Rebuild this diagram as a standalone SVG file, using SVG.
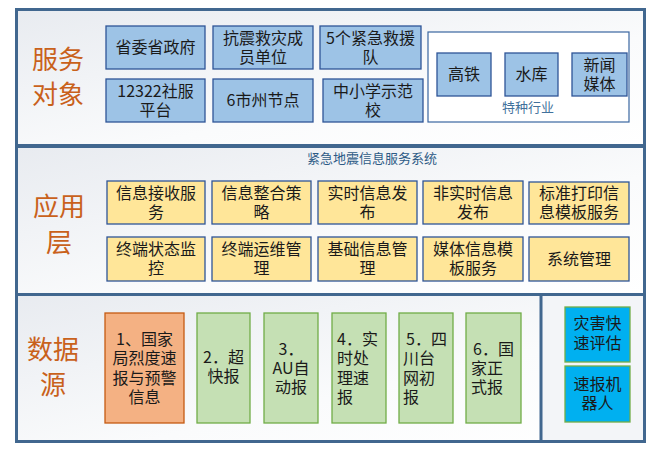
<svg xmlns="http://www.w3.org/2000/svg" width="656" height="449" viewBox="0 0 656 449">
<defs>
<linearGradient id="pg" x1="0" y1="0" x2="1" y2="1">
<stop offset="0" stop-color="#e8ebf0"/>
<stop offset="0.6" stop-color="#fafbfc"/>
<stop offset="1" stop-color="#ffffff"/>
</linearGradient>
</defs>
<style>
text{font-family:"Noto Sans CJK SC","Liberation Sans",sans-serif;font-size:16px;fill:#1a1a1a;text-anchor:middle}
.panel{fill:url(#pg);stroke:#41678f;stroke-width:3}
.title{font-size:26px;fill:#c9611b}
.blue{fill:#9dc3e6;stroke:#2f5597;stroke-width:1.3}
.yel{fill:#ffe699;stroke:#2f5597;stroke-width:1.3}
.org{fill:#f4b183;stroke:#c55a11;stroke-width:1.3}
.grn{fill:#c5e0b4;stroke:#70ad47;stroke-width:1.3}
.cyan{fill:#00b0f0;stroke:#70ad47;stroke-width:1.3}
.lbl{font-size:13px;fill:#41719c}
.l{text-anchor:start}
</style>
<rect width="656" height="449" fill="#ffffff"/>

<g id="panel-service">
<rect class="panel" x="16.5" y="9.5" width="628" height="136"/>
<text class="title" x="58" y="69">服务</text>
<text class="title" x="58" y="104">对象</text>
</g>
<g id="panel-app">
<rect class="panel" x="16.5" y="146.5" width="628" height="148"/>
<text class="title" x="59" y="216">应用</text>
<text class="title" x="59" y="252">层</text>
<text class="lbl" x="372" y="162.5" style="fill:#2e5b86">紧急地震信息服务系统</text>
</g>
<g id="panel-data">
<rect class="panel" x="16.5" y="294.5" width="628" height="147"/>
<rect x="541" y="294.5" width="103.5" height="147" fill="#f3f5f8" stroke="#41678f" stroke-width="3"/>
<text class="title" x="53" y="359">数据</text>
<text class="title" x="53" y="394">源</text>
</g>

<g id="n-shengwei"><rect class="blue" x="106" y="26" width="99" height="43"/><text x="155.5" y="53">省委省政府</text></g>
<g id="n-kangzhen"><rect class="blue" x="213" y="26" width="100" height="43"/><text x="263" y="43.5">抗震救灾成</text><text x="263" y="62.5">员单位</text></g>
<g id="n-jiuyuan"><rect class="blue" x="320" y="26" width="101" height="43"/><text x="370.5" y="43.5">5个紧急救援</text><text x="370.5" y="62.5">队</text></g>
<g id="n-12322"><rect class="blue" x="106" y="79" width="99" height="43"/><text x="155.5" y="96.5">12322社服</text><text x="155.5" y="115.5">平台</text></g>
<g id="n-shizhou"><rect class="blue" x="213" y="79" width="100" height="43"/><text x="263" y="106">6市州节点</text></g>
<g id="n-school"><rect class="blue" x="323" y="79" width="100" height="43"/><text x="373" y="96.5">中小学示范</text><text x="373" y="115.5">校</text></g>

<g id="g-special">
<rect x="428" y="32" width="201" height="90" fill="#ffffff" stroke="#3a66a0" stroke-width="1.2"/>
<text class="lbl" x="528" y="111.5">特种行业</text>
</g>
<g id="n-gaotie"><rect class="blue" x="437" y="53" width="54" height="43"/><text x="464" y="80">高铁</text></g>
<g id="n-shuiku"><rect class="blue" x="505" y="53" width="53" height="43"/><text x="531.5" y="80">水库</text></g>
<g id="n-media"><rect class="blue" x="572" y="53" width="55" height="43"/><text x="599.5" y="70.5">新闻</text><text x="599.5" y="89.5">媒体</text></g>

<g id="n-recv"><rect class="yel" x="107" y="181" width="98" height="43"/><text x="156" y="199">信息接收服</text><text x="156" y="218">务</text></g>
<g id="n-integ"><rect class="yel" x="212" y="181" width="99" height="43"/><text x="261.5" y="199">信息整合策</text><text x="261.5" y="218">略</text></g>
<g id="n-rt"><rect class="yel" x="318" y="181" width="99" height="43"/><text x="367.5" y="199">实时信息发</text><text x="367.5" y="218">布</text></g>
<g id="n-nrt"><rect class="yel" x="423" y="181" width="100" height="43"/><text x="473" y="199">非实时信息</text><text x="473" y="218">发布</text></g>
<g id="n-print"><rect class="yel" x="529" y="182" width="100" height="42"/><text x="579" y="199">标准打印信</text><text x="579" y="218">息模板服务</text></g>
<g id="n-term"><rect class="yel" x="107" y="237" width="98" height="44"/><text x="156" y="255">终端状态监</text><text x="156" y="274">控</text></g>
<g id="n-ops"><rect class="yel" x="212" y="237" width="99" height="44"/><text x="261.5" y="255">终端运维管</text><text x="261.5" y="274">理</text></g>
<g id="n-base"><rect class="yel" x="318" y="237" width="99" height="44"/><text x="367.5" y="255">基础信息管</text><text x="367.5" y="274">理</text></g>
<g id="n-mtpl"><rect class="yel" x="423" y="237" width="100" height="44"/><text x="473" y="255">媒体信息模</text><text x="473" y="274">板服务</text></g>
<g id="n-sys"><rect class="yel" x="529" y="237" width="100" height="44"/><text x="579" y="264.5">系统管理</text></g>

<g id="n-d1"><rect class="org" x="105" y="313" width="79" height="110"/><text x="144.5" y="344.5">1、国家</text><text x="144.5" y="364">局烈度速</text><text x="144.5" y="383.5">报与预警</text><text x="144.5" y="403">信息</text></g>
<g id="n-d2"><rect class="grn" x="197" y="313" width="53" height="110"/><text x="223.5" y="362.5">2．超</text><text x="223.5" y="381.5">快报</text></g>
<g id="n-d3"><rect class="grn" x="264" y="313" width="54" height="110"/><text x="291" y="354.5">3．</text><text x="291" y="373.5">AU自</text><text x="291" y="392.5">动报</text></g>
<g id="n-d4"><rect class="grn" x="332" y="313" width="54" height="110"/><text class="l" x="337" y="344.5">4．实</text><text class="l" x="337" y="364">时处</text><text class="l" x="337" y="383.5">理速</text><text class="l" x="337" y="403">报</text></g>
<g id="n-d5"><rect class="grn" x="399" y="313" width="54" height="110"/><text class="l" x="406" y="344.5">5．四</text><text class="l" x="403" y="364">川台</text><text class="l" x="403" y="383.5">网初</text><text class="l" x="403" y="403">报</text></g>
<g id="n-d6"><rect class="grn" x="466" y="313" width="55" height="110"/><text class="l" x="473" y="354.5">6．国</text><text class="l" x="471" y="373.5">家正</text><text class="l" x="471" y="392.5">式报</text></g>
<g id="n-assess"><rect class="cyan" x="565" y="307" width="65" height="55"/><text x="597.5" y="328.5">灾害快</text><text x="597.5" y="348.5">速评估</text></g>
<g id="n-robot"><rect class="cyan" x="565" y="366" width="65" height="56"/><text x="597.5" y="389.5">速报机</text><text x="597.5" y="408.5">器人</text></g>

<g id="connectors"></g>
</svg>
